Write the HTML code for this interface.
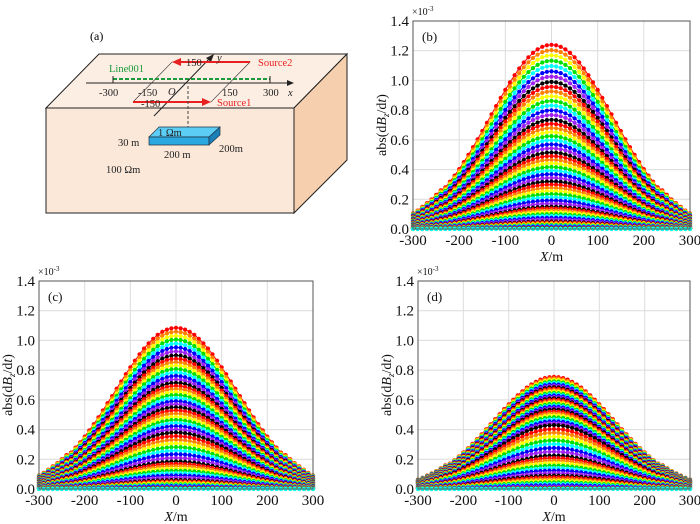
<!DOCTYPE html>
<html><head><meta charset="utf-8">
<style>
body{margin:0;background:#fff;}
svg{position:absolute;left:0;top:0;font-family:"Liberation Serif",serif;}
</style></head>
<body>
<svg id="fig" width="700" height="524" viewBox="0 0 700 524">
 <g>
  <text x="90" y="40" font-size="12">(a)</text>
  <polygon points="46,108 99,54 347,54 294,108" fill="#fdeee4" stroke="#222" stroke-width="1"/>
  <polygon points="46,108 294,108 294,213 46,213" fill="#fbe8d9" stroke="#222" stroke-width="1"/>
  <polygon points="294,108 347,54 347,160 294,213" fill="#f5cfae" stroke="#222" stroke-width="1"/>
  <polyline points="133,102 172,62 250,62 211,102 133,102" fill="none" stroke="#333" stroke-width="0.6"/>
  <line x1="86" y1="83" x2="290" y2="83" stroke="#222" stroke-width="1"/>
  <polygon points="294,83 287,80 287,86" fill="#222"/>
  <line x1="113" y1="79" x2="270" y2="79" stroke="#1a9a3a" stroke-width="2" stroke-dasharray="4,2"/>
  <line x1="113" y1="76" x2="113" y2="83" stroke="#222"/><line x1="270" y1="76" x2="270" y2="83" stroke="#222"/>
  <line x1="154" y1="116" x2="211" y2="57" stroke="#222" stroke-width="1"/>
  <polygon points="214,54 206,58 211,62" fill="#222"/>
  <line x1="250" y1="62" x2="180" y2="62" stroke="#e82020" stroke-width="2"/>
  <polygon points="172,62 181,58 181,66" fill="#e82020"/>
  <line x1="133" y1="102" x2="203" y2="102" stroke="#e82020" stroke-width="2"/>
  <polygon points="211,102 202,98 202,106" fill="#e82020"/>
  <line x1="188" y1="86" x2="188" y2="132" stroke="#444" stroke-dasharray="3,2"/>
  <polygon points="186,130 190,130 188,134" fill="#444"/>
  <polygon points="149,137 159,127 220,127 209,137" fill="#5ccdf5" stroke="#234" stroke-width="0.7"/>
  <polygon points="149,137 209,137 209,145 149,145" fill="#2aa8e0" stroke="#234" stroke-width="0.7"/>
  <polygon points="209,137 220,127 220,135 209,145" fill="#1a80b8" stroke="#234" stroke-width="0.7"/>
  <g font-size="10.5" fill="#222">
   <text x="99" y="96">-300</text><text x="138" y="96">-150</text><text x="168" y="95" font-style="italic">O</text>
   <text x="222" y="96">150</text><text x="263" y="96">300</text><text x="288" y="96" font-style="italic">x</text>
   <text x="217" y="61" font-style="italic">y</text>
   <text x="186" y="66">150</text><text x="141" y="107">-150</text>
   <text x="158" y="136">1 Ωm</text>
   <text x="118" y="146">30 m</text><text x="164" y="158">200 m</text><text x="219" y="152">200m</text>
   <text x="106" y="173">100 Ωm</text>
  </g>
  <text x="109" y="72" font-size="10.5" fill="#1a9a3a">Line001</text>
  <text x="258" y="66" font-size="10.5" fill="#e82020">Source2</text>
  <text x="217" y="106" font-size="10.5" fill="#e82020">Source1</text>
 </g>
 <g id="pb"></g>
 <g id="pc"></g>
 <g id="pd"></g>
</svg>
<script>
const xPositions = [-300,-290,-280,-270,-260,-250,-240,-230,-220,-210,-200,-190,-180,-170,-160,-150,-140,-130,-120,-110,-100,-90,-80,-70,-60,-50,-40,-30,-20,-10,0,10,20,30,40,50,60,70,80,90,100,110,120,130,140,150,160,170,180,190,200,210,220,230,240,250,260,270,280,290,300];
const profileShape = [0.085,0.10,0.12,0.14,0.16,0.185,0.21,0.226,0.257,0.290,0.325,0.363,0.402,0.444,0.487,0.532,0.576,0.622,0.667,0.712,0.755,0.796,0.835,0.871,0.904,0.932,0.956,0.975,0.989,0.997,1,0.997,0.989,0.975,0.956,0.932,0.904,0.871,0.835,0.796,0.755,0.712,0.667,0.622,0.576,0.532,0.487,0.444,0.402,0.363,0.325,0.290,0.257,0.226,0.21,0.185,0.16,0.14,0.12,0.10,0.085];
const peaksB = [1.240,1.204,1.169,1.133,1.097,1.061,1.026,0.990,0.958,0.926,0.894,0.862,0.831,0.799,0.767,0.735,0.708,0.680,0.653,0.625,0.598,0.570,0.543,0.515,0.491,0.466,0.442,0.417,0.393,0.369,0.344,0.320,0.299,0.277,0.256,0.235,0.214,0.192,0.171,0.150,0.138,0.125,0.113,0.100,0.088,0.075,0.063,0.050,0.044,0.038,0.032,0.027,0.022,0.017,0.012,0.008,0.005,0.004,0.003,0.002,0.001];
const peaksC = [1.085,1.059,1.032,1.006,0.979,0.953,0.926,0.900,0.877,0.854,0.831,0.808,0.784,0.761,0.738,0.715,0.694,0.674,0.653,0.633,0.612,0.591,0.571,0.550,0.529,0.508,0.486,0.465,0.444,0.423,0.401,0.380,0.356,0.331,0.307,0.282,0.258,0.234,0.209,0.185,0.169,0.154,0.138,0.123,0.107,0.091,0.076,0.060,0.052,0.045,0.038,0.031,0.025,0.019,0.013,0.008,0.005,0.004,0.003,0.002,0.001];
const peaksD = [0.755,0.745,0.735,0.725,0.715,0.705,0.695,0.685,0.676,0.666,0.657,0.647,0.638,0.629,0.619,0.610,0.601,0.591,0.582,0.573,0.563,0.554,0.544,0.535,0.522,0.509,0.496,0.483,0.469,0.456,0.443,0.430,0.404,0.379,0.353,0.327,0.302,0.276,0.251,0.225,0.208,0.191,0.174,0.157,0.141,0.124,0.107,0.090,0.078,0.066,0.055,0.045,0.035,0.025,0.016,0.008,0.005,0.004,0.003,0.002,0.001];
const xTicks = [-300,-200,-100,0,100,200,300];
const yTicks = [0,0.2,0.4,0.6,0.8,1.0,1.2,1.4];
const colorCycle = ['#ff0000','#ff8000','#ffff00','#00e000','#00ffff','#0000ff','#a020f0','#000000'];
const NS='http://www.w3.org/2000/svg';
function mk(tag,attrs,parent){const e=document.createElementNS(NS,tag);for(const k in attrs)e.setAttribute(k,attrs[k]);parent.appendChild(e);return e;}
function panel(gid,peaks,L,R,T,B,label){
  const g=document.getElementById(gid);
  const xs=v=>L+(v+300)/600*(R-L);
  const ys=v=>B-v/1.4*(B-T);
  mk('rect',{x:L,y:T,width:R-L,height:B-T,fill:'#fff'},g);
  xTicks.forEach(t=>{const l=mk('line',{x1:xs(t),x2:xs(t),y1:T,y2:B,stroke:'#dcdcdc','stroke-width':1},g);
    
    
    const tx=mk('text',{x:xs(t),y:B+16,'font-size':15,'text-anchor':'middle',fill:'#111'},g);tx.textContent=t;
    
    });
  yTicks.forEach(t=>{const l=mk('line',{x1:L,x2:R,y1:ys(t),y2:ys(t),stroke:'#dcdcdc','stroke-width':1},g);
    
    
    const tx=mk('text',{x:L-4,y:ys(t)+5,'font-size':15,'text-anchor':'end',fill:'#111'},g);tx.textContent=t.toFixed(1);
    
    });
  peaks.forEach((p,i)=>{
    const c=colorCycle[i%colorCycle.length];
    const s=mk('g',{fill:c},g);
    
    
    const pts=xPositions.map((x,j)=>xs(x).toFixed(1)+','+ys(p*profileShape[j]).toFixed(1)).join(' ');
    mk('polyline',{points:pts,fill:'none',stroke:c,'stroke-width':1},s);
    xPositions.forEach((x,j)=>{mk('circle',{cx:xs(x).toFixed(1),cy:ys(p*profileShape[j]).toFixed(1),r:2.1},s);});
  });
  const box=mk('rect',{x:L,y:T,width:R-L,height:B-T,fill:'none',stroke:'#555','stroke-width':1},g);
  
  
  const lb=mk('text',{x:L+9,y:T+20,'font-size':13,fill:'#111'},g);lb.textContent=label;
  
  
  const ex=mk('text',{x:L-1,y:T-6,'font-size':10,fill:'#111'},g);ex.innerHTML='×10<tspan dy="-4" font-size="7">-3</tspan>';
  
  
  const xl=mk('text',{x:(L+R)/2,y:B+32,'font-size':14,'text-anchor':'middle',fill:'#111'},g);
  xl.innerHTML='<tspan font-style="italic">X</tspan>/m';
  
  
  const cy=(T+B)/2, ax=L-27;
  const yl=mk('text',{x:ax,y:cy,'font-size':14,'text-anchor':'middle',fill:'#111',transform:'rotate(-90 '+ax+' '+cy+')'},g);
  yl.innerHTML='abs(d<tspan font-style="italic">B</tspan><tspan font-size="9" dy="3" font-style="italic">z</tspan><tspan dy="-3">/d</tspan><tspan font-style="italic">t</tspan>)';
  
  
}
panel('pb',peaksB,413,690,21,229,'(b)');
panel('pc',peaksC,39,313,281,489,'(c)');
panel('pd',peaksD,418,690,281,489,'(d)');
</script>
</body></html>
